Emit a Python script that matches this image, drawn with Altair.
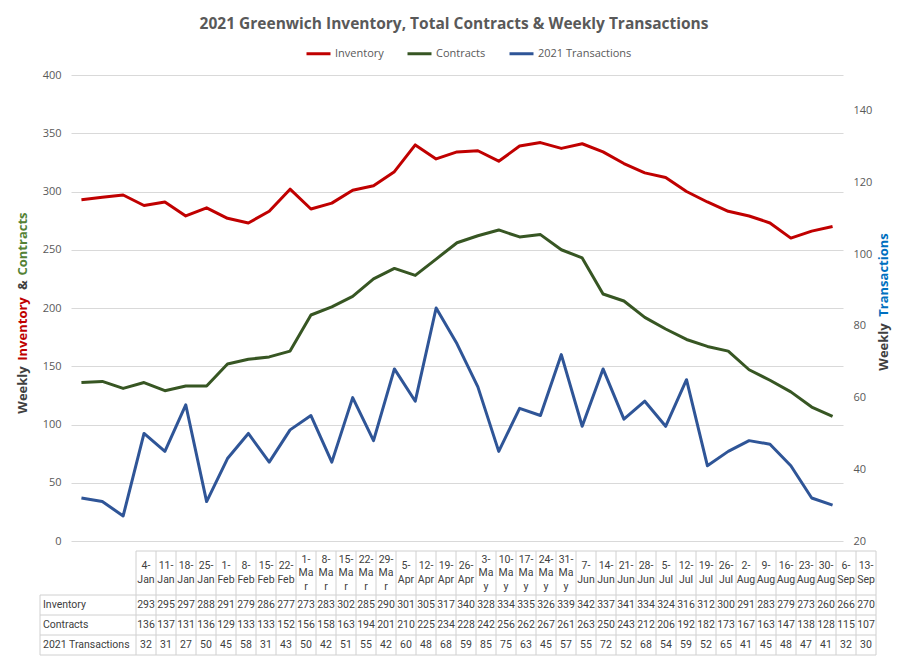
import altair as alt
import pandas as pd

dates = ["4-Jan", "11-Jan", "18-Jan", "25-Jan", "1-Feb", "8-Feb", "15-Feb", "22-Feb",
         "1-Mar", "8-Mar", "15-Mar", "22-Mar", "29-Mar", "5-Apr", "12-Apr", "19-Apr",
         "26-Apr", "3-May", "10-May", "17-May", "24-May", "31-May", "7-Jun", "14-Jun",
         "21-Jun", "28-Jun", "5-Jul", "12-Jul", "19-Jul", "26-Jul", "2-Aug", "9-Aug",
         "16-Aug", "23-Aug", "30-Aug", "6-Sep", "13-Sep"]
inventory = [293, 295, 297, 288, 291, 279, 286, 277, 273, 283, 302, 285, 290, 301, 305, 317,
             340, 328, 334, 335, 326, 339, 342, 337, 341, 334, 324, 316, 312, 300, 291, 283,
             279, 273, 260, 266, 270]
contracts = [136, 137, 131, 136, 129, 133, 133, 152, 156, 158, 163, 194, 201, 210, 225, 234,
             228, 242, 256, 262, 267, 261, 263, 250, 243, 212, 206, 192, 182, 173, 167, 163,
             147, 138, 128, 115, 107]
transactions = [32, 31, 27, 50, 45, 58, 31, 43, 50, 42, 51, 55, 42, 60, 48, 68,
                59, 85, 75, 63, 45, 57, 55, 72, 52, 68, 54, 59, 52, 65, 41, 45,
                48, 47, 41, 32, 30]

series_names = ["Inventory", "Contracts", "2021 Transactions"]
series_colors = ["#C00000", "#375623", "#2F5597"]
left_ticks = list(range(0, 401, 50))
right_ticks = list(range(20, 141, 20))

TITLE = "2021 Greenwich Inventory, Total Contracts & Weekly Transactions"
GRAY = "#595959"
DARK = "#404040"
FONT = "Open Sans"
TFONT = "Roboto"

n = len(dates)

# ---------------- top chart ----------------
left_df = pd.DataFrame({
    "date": dates * 2,
    "value": inventory + contracts,
    "series": [series_names[0]] * n + [series_names[1]] * n,
})
right_df = pd.DataFrame({"date": dates, "value": transactions, "series": series_names[2]})

xenc = alt.X("date:O", sort=dates, axis=None, scale=alt.Scale(padding=0.5))
color = alt.Color(
    "series:N",
    scale=alt.Scale(domain=series_names, range=series_colors),
    legend=alt.Legend(
        title=None, orient="none", legendX=234, legendY=-35, direction="horizontal",
        symbolType="stroke", symbolSize=576, symbolStrokeWidth=3,
        labelFont=FONT, labelFontSize=11, labelColor=GRAY, labelOffset=3,
        columnPadding=17,
    ),
)

left_lines = alt.Chart(left_df).mark_line(strokeWidth=3, strokeJoin="round").encode(
    x=xenc,
    y=alt.Y("value:Q", scale=alt.Scale(domain=[0, 400], nice=False),
            axis=alt.Axis(values=left_ticks, title=None, grid=True, gridColor="#D9D9D9",
                          domain=False, ticks=False, labelPadding=10, labelColor=GRAY,
                          labelFont=FONT, labelFontSize=11)),
    color=color,
)
right_line = alt.Chart(right_df).mark_line(strokeWidth=3, strokeJoin="round").encode(
    x=xenc,
    y=alt.Y("value:Q", scale=alt.Scale(domain=[20, 150], nice=False, zero=False),
            axis=alt.Axis(orient="right", values=right_ticks, title=None, grid=False,
                          domain=False, ticks=False, labelPadding=10, labelColor=GRAY,
                          labelFont=FONT, labelFontSize=11)),
    color=color,
)

one = pd.DataFrame({"k": [0]})


def piece(text, col, x, y):
    return alt.Chart(one).mark_text(
        text=text, angle=270, font=FONT, fontSize=13, fontWeight="bold", color=col,
        align="center", baseline="middle",
    ).encode(x=alt.value(x), y=alt.value(y))


titles = [
    piece("Weekly", DARK, -48, 315),
    piece("Inventory", "#C00000", -48, 254),
    piece("&", DARK, -48, 210),
    piece("Contracts", "#548235", -48, 169),
    piece("Weekly", DARK, 813, 272),
    piece("Transactions", "#0070C0", 813, 200),
]

top = alt.layer(left_lines, right_line, *titles).resolve_scale(y="independent").properties(
    width=772, height=466)

# ---------------- data table ----------------
label_left = -4.8
header_h = 2.2
line_h = 0.675  # header line height in row units
row_names = series_names
row_values = [inventory, contracts, transactions]


def wrap(d):
    day, mon = d.split("-")
    if mon in ("Mar", "May"):
        return [f"{day}-", mon[:2], mon[2:]]
    return [f"{day}-", mon]


head_rows = []
for i, d in enumerate(dates):
    lines = wrap(d)
    first = header_h / 2 - (len(lines) - 1) / 2 * line_h
    head_rows.append({"cx": i + 0.5, "cy": first, "label": "\n".join(lines)})
header_df = pd.DataFrame(head_rows)

cell_rows = []
for r, (name, vals) in enumerate(zip(row_names, row_values)):
    for i, v in enumerate(vals):
        cell_rows.append({"cx": i + 0.5, "cy": header_h + r + 0.5, "label": str(v)})
cells_df = pd.DataFrame(cell_rows)
names_df = pd.DataFrame({"cx": [label_left + 0.15] * 3,
                         "cy": [header_h + r + 0.5 for r in range(3)],
                         "label": row_names})

hr = [{"y": 0, "x": 0, "x2": n}] + [
    {"y": header_h + k, "x": label_left, "x2": n} for k in range(4)]
vr = [{"x": label_left, "y": header_h, "y2": header_h + 3}] + [
    {"x": i, "y": 0, "y2": header_h + 3} for i in range(n + 1)]
hr_df = pd.DataFrame(hr)
vr_df = pd.DataFrame(vr)

tx = alt.Scale(domain=[-3.25, n], nice=False, zero=False)
ty = alt.Scale(domain=[0, header_h + 3], nice=False, zero=False, reverse=True)
BORDER = "#D0D0D0"

hrules = alt.Chart(hr_df).mark_rule(color=BORDER, strokeWidth=1).encode(
    x=alt.X("x:Q", scale=tx, axis=None), x2="x2:Q",
    y=alt.Y("y:Q", scale=ty, axis=None))
vrules = alt.Chart(vr_df).mark_rule(color=BORDER, strokeWidth=1).encode(
    x=alt.X("x:Q", scale=tx, axis=None),
    y=alt.Y("y:Q", scale=ty, axis=None), y2="y2:Q")
head_txt = alt.Chart(header_df).mark_text(
    font=TFONT, fontSize=10.5, color=DARK, lineBreak="\n", lineHeight=13.5,
    align="center", baseline="middle").encode(
    x=alt.X("cx:Q", scale=tx, axis=None), y=alt.Y("cy:Q", scale=ty, axis=None),
    text="label:N")
cell_txt = alt.Chart(cells_df).mark_text(
    font=TFONT, fontSize=10.5, color=DARK, align="center", baseline="middle").encode(
    x=alt.X("cx:Q", scale=tx, axis=None), y=alt.Y("cy:Q", scale=ty, axis=None),
    text="label:N")
name_txt = alt.Chart(names_df).mark_text(
    font=TFONT, fontSize=10.5, color=DARK, align="left", baseline="middle").encode(
    x=alt.X("cx:Q", scale=tx, axis=None), y=alt.Y("cy:Q", scale=ty, axis=None),
    text="label:N")

bottom = alt.layer(hrules, vrules, head_txt, cell_txt, name_txt).properties(
    width=805, height=104)

chart = alt.vconcat(top, bottom, spacing=10, bounds="flush").properties(
    title=alt.Title(TITLE, anchor="middle", font=FONT, fontSize=15.5, fontWeight="bold",
                    color=GRAY, offset=8),
    padding={"left": 9, "right": 3, "top": 8, "bottom": 0},
).configure_view(stroke=None)

chart.save("out.html", embed_options={"renderer": "svg", "actions": False})
